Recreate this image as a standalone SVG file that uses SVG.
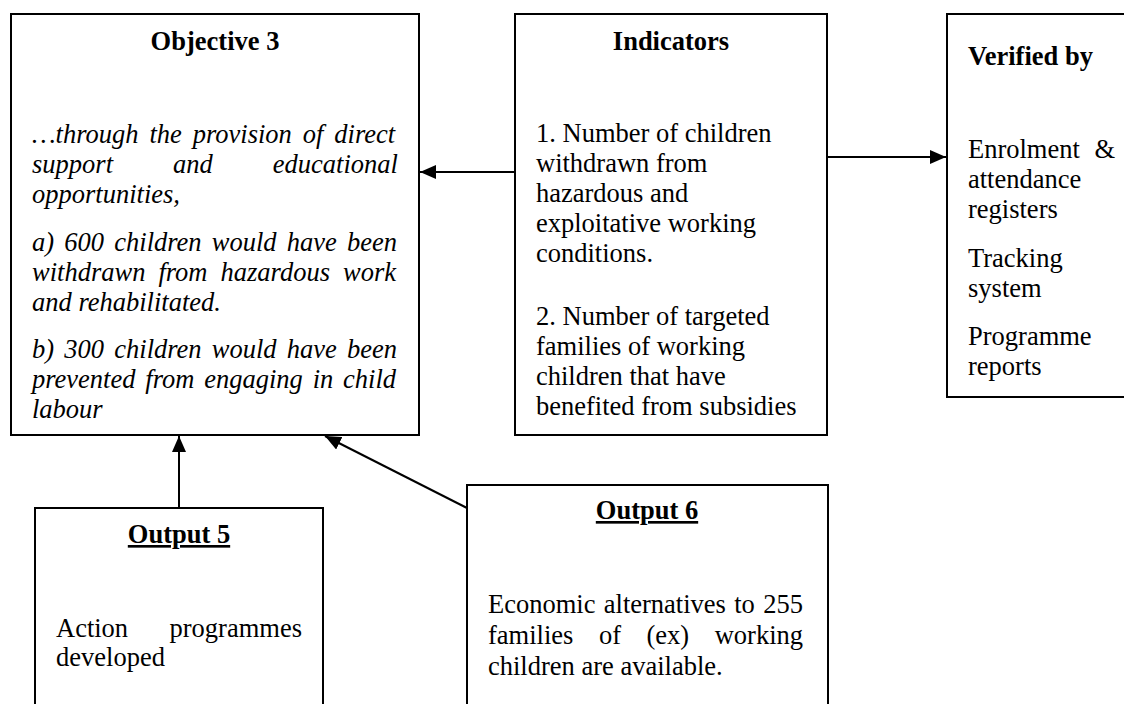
<svg xmlns="http://www.w3.org/2000/svg" width="1124" height="704" viewBox="0 0 1124 704">
<style>
.box{fill:#fff;stroke:#000;stroke-width:2}
.t{font-family:"Liberation Serif","Times New Roman",serif;font-size:26.5px;fill:#000}
.b{font-weight:bold}
.i{font-style:italic}
.u{text-decoration:underline}
.c{stroke:#000;stroke-width:2;fill:none}
</style>
<defs>
<marker id="ah" markerUnits="userSpaceOnUse" markerWidth="16" markerHeight="14" refX="16" refY="7" orient="auto">
<path d="M0,0 L16,7 L0,14 Z" fill="#000"/>
</marker>
</defs>
<rect width="1124" height="704" fill="#fff"/>
<g id="objective3">
<rect class="box" x="11" y="14" width="408" height="421"/>
<text class="t b" x="215" y="50" text-anchor="middle">Objective 3</text>
<g class="t i">
<text x="32" y="143" word-spacing="4.3">…through the provision of direct</text>
<text x="32" y="173" word-spacing="53.4">support and educational</text>
<text x="32" y="203">opportunities,</text>
<text x="32" y="251" word-spacing="3.6">a) 600 children would have been</text>
<text x="32" y="281" word-spacing="6.4">withdrawn from hazardous work</text>
<text x="32" y="311">and rehabilitated.</text>
<text x="32" y="358" word-spacing="3.6">b) 300 children would have been</text>
<text x="32" y="388" word-spacing="3.2">prevented from engaging in child</text>
<text x="32" y="418">labour</text>
</g>
</g>
<g id="indicators">
<rect class="box" x="515" y="14" width="312" height="421"/>
<text class="t b" x="671" y="50" text-anchor="middle">Indicators</text>
<g class="t">
<text x="536" y="142">1. Number of children</text>
<text x="536" y="172">withdrawn from</text>
<text x="536" y="202">hazardous and</text>
<text x="536" y="232">exploitative working</text>
<text x="536" y="262">conditions.</text>
<text x="536" y="325">2. Number of targeted</text>
<text x="536" y="355">families of working</text>
<text x="536" y="385">children that have</text>
<text x="536" y="415">benefited from subsidies</text>
</g>
</g>
<g id="verified">
<rect class="box" x="947" y="14" width="200" height="383"/>
<text class="t b" x="968" y="65">Verified by</text>
<g class="t">
<text x="968" y="158">Enrolment</text><text x="1115" y="158" text-anchor="end">&amp;</text>
<text x="968" y="188">attendance</text>
<text x="968" y="218">registers</text>
<text x="968" y="267">Tracking</text>
<text x="968" y="297">system</text>
<text x="968" y="345">Programme</text>
<text x="968" y="375">reports</text>
</g>
</g>
<g id="output5">
<rect class="box" x="35" y="508" width="288" height="220"/>
<text class="t b u" x="179" y="543" text-anchor="middle">Output 5</text>
<g class="t">
<text x="56" y="637">Action</text><text x="302" y="637" text-anchor="end">programmes</text>
<text x="56" y="666">developed</text>
</g>
</g>
<g id="output6">
<rect class="box" x="467" y="485" width="361" height="240"/>
<text class="t b u" x="647" y="519" text-anchor="middle">Output 6</text>
<g class="t">
<text x="488" y="613" word-spacing="1.7">Economic alternatives to 255</text>
<text x="488" y="644" word-spacing="18.9">families of (ex) working</text>
<text x="488" y="675">children are available.</text>
</g>
</g>
<g id="connectors">
<line class="c" x1="515" y1="172" x2="420" y2="172" marker-end="url(#ah)"/>
<line class="c" x1="827" y1="157" x2="946" y2="157" marker-end="url(#ah)"/>
<line class="c" x1="179" y1="508" x2="179" y2="436" marker-end="url(#ah)"/>
<line class="c" x1="467" y1="508" x2="325" y2="436" marker-end="url(#ah)"/>
</g>
</svg>
